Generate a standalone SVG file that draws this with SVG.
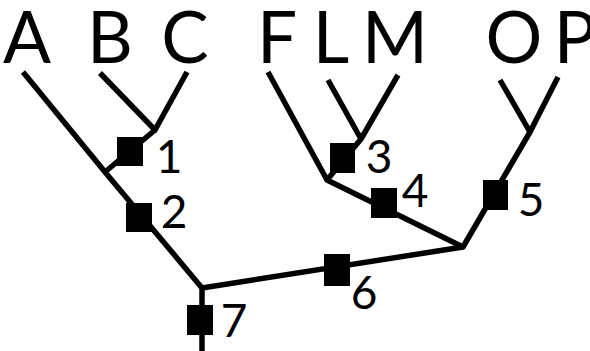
<svg xmlns="http://www.w3.org/2000/svg" width="590" height="351" viewBox="0 0 590 351">
<style>
.taxon{font-family:Lato,"Open Sans","Liberation Sans",sans-serif;font-size:71px;fill:#000;text-anchor:middle}
.num{font-family:Lato,"Open Sans","Liberation Sans",sans-serif;font-size:46px;fill:#000;text-anchor:middle}
.edge{fill:none;stroke:#000;stroke-width:5.5;stroke-linejoin:round;stroke-linecap:butt}
.box{fill:#000}
</style>
<rect width="590" height="351" fill="#fff"/>
<g id="connectors">
<path class="edge" d="M23,72 L105,172 L202,288 L202,351"/>
<path class="edge" d="M100,73 L155,130 L187,72"/>
<path class="edge" d="M155,130 L105,172"/>
<path class="edge" d="M268,72 L327,180 L463,247 L530,132"/>
<path class="edge" d="M328,80 L361,139 L398,75"/>
<path class="edge" d="M361,139 L327,180"/>
<path class="edge" d="M500,80 L530,132 L558,77"/>
<path class="edge" d="M202,288 L463,247"/>
</g>
<g id="taxon-A"><text class="taxon" x="27" y="63">A</text></g>
<g id="taxon-B"><text class="taxon" x="110" y="63">B</text></g>
<g id="taxon-C"><text class="taxon" x="185" y="63">C</text></g>
<g id="taxon-F"><text class="taxon" x="277" y="63">F</text></g>
<g id="taxon-L"><text class="taxon" x="331" y="63">L</text></g>
<g id="taxon-M"><text class="taxon" x="395" y="63">M</text></g>
<g id="taxon-O"><text class="taxon" x="514" y="63">O</text></g>
<g id="taxon-P"><text class="taxon" x="575" y="63">P</text></g>
<g id="char-1"><rect class="box" x="117" y="137" width="26" height="29"/><text class="num" x="169" y="173">1</text></g>
<g id="char-2"><rect class="box" x="126" y="203" width="26" height="29"/><text class="num" x="174" y="228">2</text></g>
<g id="char-3"><rect class="box" x="330" y="143" width="25" height="30"/><text class="num" x="379" y="173">3</text></g>
<g id="char-4"><rect class="box" x="371" y="188" width="26" height="30"/><text class="num" x="415" y="207">4</text></g>
<g id="char-5"><rect class="box" x="483" y="180" width="25" height="30"/><text class="num" x="531" y="216">5</text></g>
<g id="char-6"><rect class="box" x="324" y="254" width="26" height="32"/><text class="num" x="364" y="309">6</text></g>
<g id="char-7"><rect class="box" x="187" y="305" width="26" height="30"/><text class="num" x="234" y="337">7</text></g>
</svg>
